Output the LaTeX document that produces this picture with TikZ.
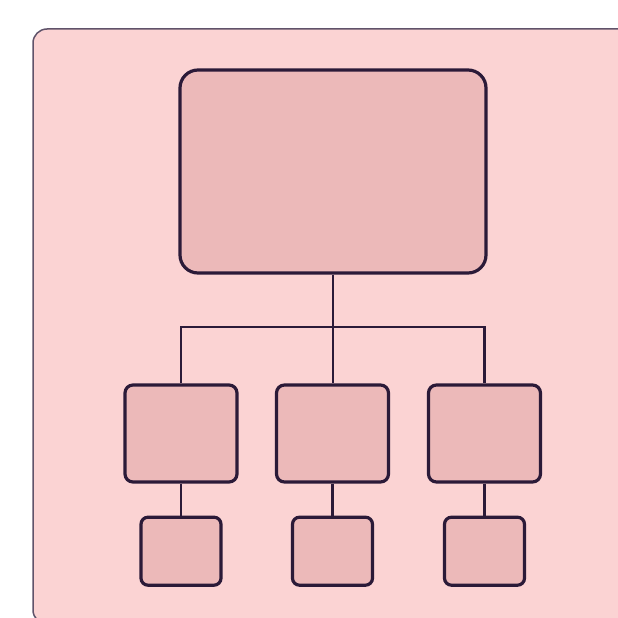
\documentclass[tikz,border=0pt]{standalone}
\usepackage{tikz}
\usetikzlibrary{positioning}

\definecolor{PanelPink}{HTML}{FBD3D3}
\definecolor{BoxPink}{HTML}{ECB9B9}
\definecolor{InkPlum}{HTML}{2B1A38}

\tikzset{
  orgbox/.style={draw=InkPlum, fill=BoxPink, line width=3.2pt, rounded corners=#1, inner sep=0pt},
  orgbox/.default=6pt,
  orgline/.style={draw=InkPlum, line width=2.9pt}
}

\begin{document}
\begin{tikzpicture}[x=1pt, y=-1pt]
\useasboundingbox (0,0) rectangle (618,618);
\clip (0,0) rectangle (618,618);
\fill[white] (0,0) rectangle (618,618);
\draw[fill=PanelPink, draw=InkPlum!75, line width=1.5pt, rounded corners=14pt] (33,29) rectangle (660,624);
\node[orgbox=18pt, minimum width=306pt, minimum height=203pt] (main) at (333,171.5) {};
\node[orgbox=8pt, minimum width=112pt, minimum height=97pt] (c1) at (181,433.5) {};
\node[orgbox=8pt, minimum width=112pt, minimum height=97pt] (c2) at (332.5,433.5) {};
\node[orgbox=8pt, minimum width=112pt, minimum height=97pt] (c3) at (484.5,433.5) {};
\node[orgbox=7pt, minimum width=80pt, minimum height=68pt, below=32pt of c1] (g1) {};
\node[orgbox=7pt, minimum width=80pt, minimum height=68pt, below=32pt of c2] (g2) {};
\node[orgbox=7pt, minimum width=80pt, minimum height=68pt, below=32pt of c3] (g3) {};
\coordinate (bar) at (333,327);
\draw[orgline] (main.south) -- (main.south |- c2.north);
\draw[orgline] (c1.north) |- (bar) -| (c3.north);
\draw[orgline] (c1.south) -- (g1.north);
\draw[orgline] (c2.south) -- (g2.north);
\draw[orgline] (c3.south) -- (g3.north);
\end{tikzpicture}
\end{document}
